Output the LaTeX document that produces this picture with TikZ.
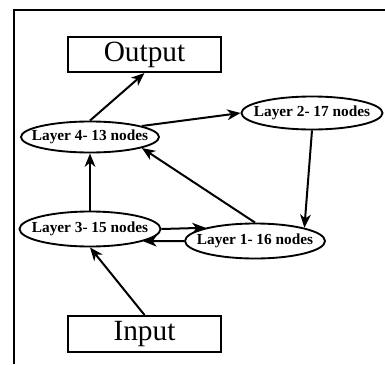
\documentclass[tikz,border=0pt]{standalone}
\usepackage{fontspec}
\setmainfont{Liberation Serif}
\usepackage{xcolor}
\usetikzlibrary{shapes.geometric,arrows.meta}

\tikzset{
  iobox/.style={draw, rectangle, line width=1.5pt, inner sep=0pt, font=\fontsize{22}{22}\selectfont},
  layer/.style={draw, ellipse, line width=1.4pt, inner xsep=-25pt, inner ysep=-6pt, font=\bfseries\fontsize{11.5}{11.5}\selectfont},
  conn/.style={line width=1.5pt, -{Stealth[length=10pt,width=8pt,inset=3pt]}}
}

\begin{document}
\begin{tikzpicture}[x=0.75pt,y=0.75pt,yscale=-1,xscale=1]
\useasboundingbox (0,0) rectangle (385,364);

%Shape: Frame
\draw [line width=1.5pt] (14,364) -- (14,10) -- (385,10) ;

%Shape: Rectangle
\node [iobox, minimum width=114.75pt, minimum height=26.25pt] (out) at (144.5,54.5) {Output};
%Shape: Rectangle
\node [iobox, minimum width=114.75pt, minimum height=27pt] (inp) at (144.5,334) {Input};

%Shape: Ellipse
\node [layer, minimum width=103.5pt, minimum height=23.25pt] (l4) at (90,137) {Layer 4- 13 nodes};
%Shape: Ellipse
\node [layer, minimum width=105.75pt, minimum height=24.75pt] (l2) at (312,113) {Layer 2- 17 nodes};
%Shape: Ellipse
\node [layer, minimum width=105.75pt, minimum height=26.25pt] (l3) at (90,229) {Layer 3- 15 nodes};
%Shape: Ellipse
\node [layer, minimum width=105pt, minimum height=26.25pt] (l1) at (255,241) {Layer 1- 16 nodes};

%Straight Lines
\draw [conn] (l4.north) -- (out.south) ;
\draw [conn] (l4.12) -- (l2.west) ;
\draw [conn] (l2.south) -- (l1.15) ;
\draw [conn] (l1.north) -- (l4.-12) ;
\draw [conn] (l3.north) -- (l4.south) ;
\draw [conn] (l3.east) -- (l1.165) ;
\draw [conn] (l1.west) -- (l3.-13) ;
\draw [conn] (inp.north) -- (l3.south) ;

\end{tikzpicture}
\end{document}
